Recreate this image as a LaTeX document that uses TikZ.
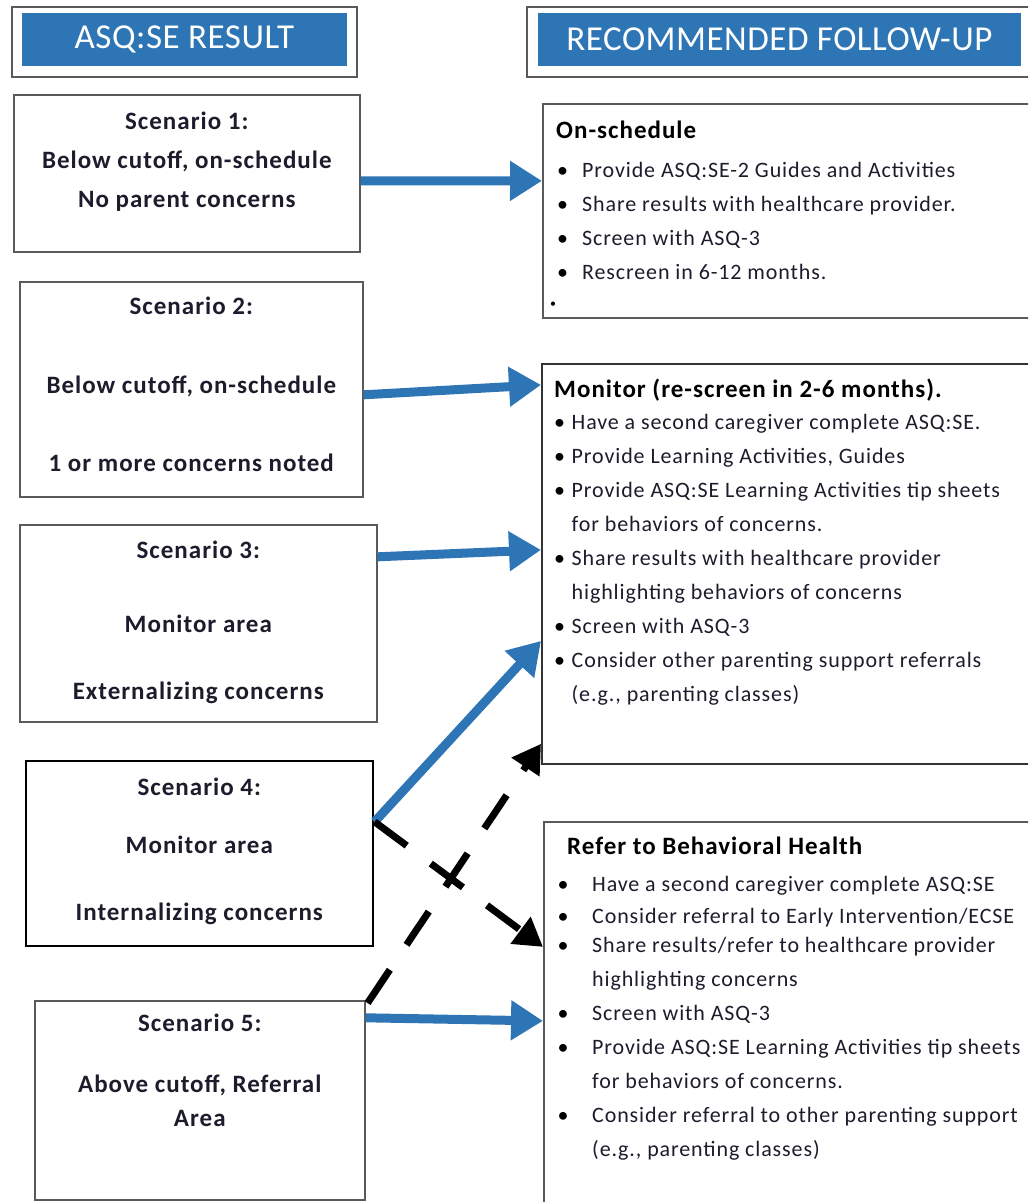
\documentclass[tikz,border=0pt]{standalone}
\usepackage{fontspec}
\setmainfont{Carlito}[LetterSpace=4]
\newfontfamily\hdrfont{Carlito}[LetterSpace=1.5]
\usetikzlibrary{arrows.meta,positioning}

\definecolor{asqblue}{HTML}{2E75B6}
\definecolor{txtdark}{HTML}{1C1C2C}
\definecolor{boxline}{HTML}{5A5A5A}

\newlength{\bloff}
\newlength{\blw}
\newcommand{\bl}[1]{\hspace*{\bloff}\makebox[\blw][l]{\textcolor{black}{\textbullet}}#1}
\newcommand{\cl}[1]{\hspace*{\bloff}\hspace*{\blw}#1}
\newcommand{\fhead}[1]{\rule{0pt}{22pt}{\fontsize{25}{30}\selectfont\bfseries\textcolor{black}{#1}}}

\tikzset{
  hdrframe/.style={draw=boxline,line width=2pt,fill=white,inner sep=0pt},
  hdrbar/.style={fill=asqblue,text=white,inner sep=0pt,font=\hdrfont\fontsize{35}{40}\selectfont},
  scenbox/.style={draw=boxline,line width=1.6pt,anchor=north west,inner sep=0pt},
  scentext/.style={anchor=north,align=center,inner sep=0pt,text=txtdark,
    font=\fontsize{25}{39}\selectfont\bfseries},
  fupbox/.style={draw=boxline,line width=1.8pt,anchor=north west,inner sep=0pt},
  fuptext/.style={anchor=north west,align=left,inner sep=0pt,text=txtdark,
    font=\fontsize{22}{34}\selectfont},
  bluearrow/.style={draw=asqblue,line width=9pt,-{Triangle[length=32pt,width=38pt]}},
  dasharrow/.style={draw=black,line width=7pt,dash pattern=on 40pt off 30pt,
    -{Triangle[length=28pt,width=32pt]}}
}

\begin{document}
\begin{tikzpicture}[x=1pt,y=-1pt]
  \useasboundingbox (0,0) rectangle (1028,1202);
  \clip (0,0) rectangle (1028,1202);

  % column headers
  \node[hdrframe,minimum width=345pt,minimum height=70pt] (resframe) at (184.5,42) {};
  \node[hdrbar,minimum width=325pt,minimum height=53pt] (reshead) at (184.5,39.5) {ASQ:SE RESULT};
  \node[hdrframe,minimum width=513pt,minimum height=70pt] (fupframe) at (783.5,42) {};
  \node[hdrbar,minimum width=483pt,minimum height=53pt] (fuphead) at (779.5,39.5) {RECOMMENDED FOLLOW-UP};

  % scenarios
  \node[scenbox,minimum width=346pt,minimum height=157pt] (scen1) at (13,94) {};
  \node[scentext] (scen1txt) at ([yshift=-13pt]scen1.north)
    {\rule{0pt}{22pt}Scenario 1:\\Below cutoff, on-schedule\\No parent concerns};

  \node[scenbox,minimum width=343pt,minimum height=215pt] (scen2) at (19,281) {};
  \node[scentext] (scen2txt) at ([yshift=-11pt]scen2.north)
    {\rule{0pt}{22pt}Scenario 2:\\[40pt]Below cutoff, on-schedule\\[39pt]1 or more concerns noted};

  \node[scenbox,minimum width=357pt,minimum height=197pt] (scen3) at (19,524) {};
  \node[scentext] (scen3txt) at ([yshift=-12pt]scen3.north)
    {\rule{0pt}{22pt}Scenario 3:\\[35pt]Monitor area\\[28pt]Externalizing concerns};

  \node[scenbox,draw=black,minimum width=347pt,minimum height=185pt] (scen4) at (25,760) {};
  \node[scentext] (scen4txt) at ([yshift=-13pt]scen4.north)
    {\rule{0pt}{22pt}Scenario 4:\\[19pt]Monitor area\\[28pt]Internalizing concerns};

  \node[scenbox,minimum width=330pt,minimum height=199pt] (scen5) at (34,1000) {};
  \node[scentext] (scen5txt) at ([yshift=-9pt]scen5.north)
    {\rule{0pt}{22pt}Scenario 5:\\[22pt]Above cutoff, Referral\\[-5pt]Area};

  % follow-up boxes
  \node[fupbox,minimum width=500pt,minimum height=214pt] (fup1) at (542,103) {};
  \node[fuptext,font={\fontsize{22}{34}\selectfont\setlength{\bloff}{1pt}\setlength{\blw}{25pt}}]
    (fup1txt) at (556,116)
    {\fhead{On-schedule}\\[5pt]
     \bl{Provide ASQ:SE-2 Guides and Activities}\\
     \bl{Share results with healthcare provider.}\\
     \bl{Screen with ASQ-3}\\
     \bl{Rescreen in 6-12 months.}\\[-6pt]
     \hspace*{-6pt}{\fontsize{12}{12}\selectfont\textcolor{black}{\textbullet}}};

  \node[fupbox,draw=black!80,minimum width=500pt,minimum height=400pt] (fup2) at (541,363) {};
  \node[fuptext,font={\fontsize{22}{34}\selectfont\setlength{\bloff}{0pt}\setlength{\blw}{17.5pt}}]
    (fup2txt) at (554,375)
    {\fhead{Monitor (re-screen in 2-6 months).}\\[-2pt]
     \bl{Have a second caregiver complete ASQ:SE.}\\
     \bl{Provide Learning Activities, Guides}\\
     \bl{Provide ASQ:SE Learning Activities tip sheets}\\
     \cl{for behaviors of concerns.}\\
     \bl{Share results with healthcare provider}\\
     \cl{highlighting behaviors of concerns}\\
     \bl{Screen with ASQ-3}\\
     \bl{Consider other parenting support referrals}\\
     \cl{(e.g., parenting classes)}};

  \node[fupbox,minimum width=500pt,minimum height=400pt] (fup3) at (543,821) {};
  \node[fuptext,font={\fontsize{22}{34}\selectfont\setlength{\bloff}{0pt}\setlength{\blw}{34.5pt}}]
    (fup3txt) at (557.5,832)
    {\hspace*{9.5pt}\fhead{Refer to Behavioral Health}\\[3pt]
     \bl{Have a second caregiver complete ASQ:SE}\\[-2pt]
     \bl{Consider referral to Early Intervention/ECSE}\\[-5pt]
     \bl{Share results/refer to healthcare provider}\\
     \cl{highlighting concerns}\\
     \bl{Screen with ASQ-3}\\
     \bl{Provide ASQ:SE Learning Activities tip sheets}\\
     \cl{for behaviors of concerns.}\\
     \bl{Consider referral to other parenting support}\\
     \cl{(e.g., parenting classes)}};

  % connectors
  \draw[bluearrow] ([yshift=-7.5pt]scen1.east) to ([yshift=30pt]fup1.west);
  \draw[bluearrow] ([yshift=-5.5pt]scen2.east) to ([yshift=179pt]fup2.west);
  \draw[bluearrow] ([yshift=66.5pt]scen3.east) to ([yshift=14pt]fup2.west);
  \draw[bluearrow] ([xshift=1pt,yshift=31.5pt]scen4.east) to ([yshift=-77pt]fup2.west);
  \draw[dasharrow] ([xshift=1pt,yshift=31.5pt]scen4.east) to ([yshift=75pt]fup3.west);
  \draw[bluearrow] ([yshift=82.5pt]scen5.east) to ([yshift=1pt]fup3.west);
  \draw[dasharrow] ([xshift=2pt,yshift=-3pt]scen5.north east) to ([yshift=21pt]fup2.south west);
\end{tikzpicture}
\end{document}
